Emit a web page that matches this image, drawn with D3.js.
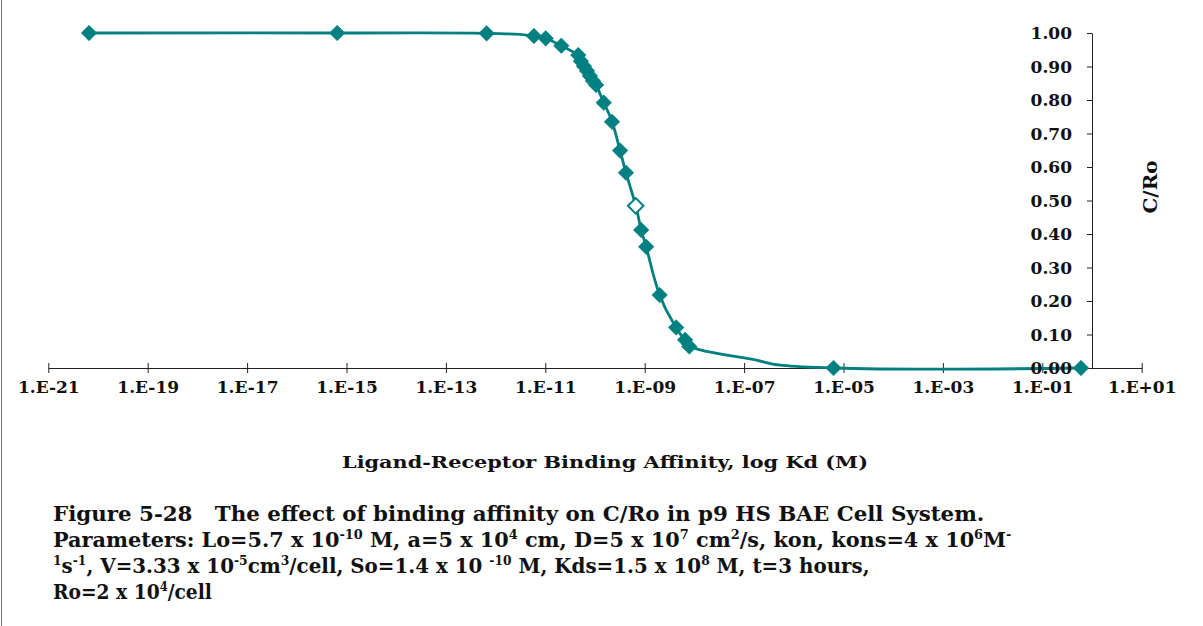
<!DOCTYPE html>
<html>
<head>
<meta charset="utf-8">
<script src="https://cdn.jsdelivr.net/npm/d3@7"></script>
<style>
  html, body { margin: 0; padding: 0; background: #fff; }
  svg { display: block; }
  text { font-family: "DejaVu Serif", "Liberation Serif", serif; font-weight: bold; fill: #111; }
</style>
</head>
<body>
<svg id="chart" width="1203" height="626"></svg>
<script>
// Dissociation constants Kd (M) and the resulting fraction of occupied receptors C/Ro
const kdValues = [6.6e-21, 6.5e-16, 6.6e-13, 5.9e-12, 1.02e-11, 2.1e-11,
  4.6e-11, 5.2e-11, 6.0e-11, 6.9e-11, 7.9e-11, 9.1e-11, 1.05e-10,
  1.5e-10, 2.2e-10, 3.2e-10, 4.2e-10, 6.6e-10, 8.5e-10, 1.07e-9,
  2.0e-9, 4.3e-9, 6.5e-9, 7.9e-9, 1.0e-7, 6.3e-6, 0.6];
const cRoValues = [1.000, 1.000, 0.999, 0.991, 0.984, 0.962,
  0.934, 0.916, 0.901, 0.887, 0.872, 0.857, 0.845,
  0.792, 0.735, 0.649, 0.583, 0.484, 0.412, 0.362,
  0.218, 0.121, 0.084, 0.064, 0.030, 0.000, 0.000];
// point drawn with a hollow marker, and point with no marker
const hollowPoint = 17;
const unmarkedPoint = 24;

const xTickValues = [1e-21, 1e-19, 1e-17, 1e-15, 1e-13, 1e-11, 1e-9, 1e-7, 1e-5, 1e-3, 1e-1, 1e1];
const yTickValues = [0, 0.1, 0.2, 0.3, 0.4, 0.5, 0.6, 0.7, 0.8, 0.9, 1.0];

const xTitle = "Ligand-Receptor Binding Affinity, log Kd (M)";
const yTitle = "C/Ro";
// caption runs: [text, superscript?]
const captionLines = [
  [["Figure 5-28\u00a0\u00a0 The effect of binding affinity on C/Ro in p9 HS BAE Cell System.", 0]],
  [["Parameters: Lo=5.7 x 10", 0], ["-10", 1], [" M, a=5 x 10", 0], ["4", 1], [" cm, D=5 x 10", 0], ["7", 1],
   [" cm", 0], ["2", 1], ["/s, kon, kons=4 x 10", 0], ["6", 1], ["M", 0], ["-", 1]],
  [["1", 1], ["s", 0], ["-1", 1], [", V=3.33 x 10", 0], ["-5", 1], ["cm", 0], ["3", 1],
   ["/cell, So=1.4 x 10 ", 0], ["-10", 1], [" M, Kds=1.5 x 10", 0], ["8", 1], [" M, t=3 hours,", 0]],
  [["Ro=2 x 10", 0], ["4", 1], ["/cell", 0]]
];
const captionWidths = [932, 959, 817, 159];

const teal = "#008080";
const svg = d3.select("#chart");

svg.append("rect").attr("width", 1203).attr("height", 626).attr("fill", "#fff");
// frame edge on the left
svg.append("line").attr("x1", 1.5).attr("x2", 1.5).attr("y1", 0).attr("y2", 626)
  .attr("stroke", "#777").attr("stroke-width", 1);

const x = d3.scaleLog().domain([1e-21, 1e1]).range([48.3, 1141.7]);
const y = d3.scaleLinear().domain([0, 1]).range([368, 33]);

const expLabel = d => {
  const e = Math.round(Math.log10(d));
  return "1.E" + (e < 0 ? "-" : "+") + String(Math.abs(e)).padStart(2, "0");
};

// horizontal axis along C/Ro = 0
const gx = svg.append("g").attr("transform", `translate(0,${y(0)})`)
  .call(d3.axisBottom(x).tickValues(xTickValues).tickFormat(expLabel).tickSizeInner(5).tickSizeOuter(0));
gx.select(".domain").attr("stroke", "#222");
gx.selectAll(".tick line").attr("y1", -5).attr("y2", 5).attr("stroke", "#222");
gx.selectAll(".tick text").attr("y", 25).attr("dy", 0)
  .style("font-size", "17px").style("font-family", null).attr("fill", "#111");

// vertical axis crossing at Kd = 1
const gy = svg.append("g").attr("transform", `translate(${x(1)},0)`)
  .call(d3.axisLeft(y).tickValues(yTickValues).tickFormat(d3.format(".2f")).tickSizeInner(5).tickSizeOuter(0));
gy.select(".domain").attr("stroke", "#222");
gy.selectAll(".tick line").attr("stroke", "#222");
gy.selectAll(".tick text").remove();

const pts = kdValues.map((k, i) => ({ k, v: cRoValues[i], i }));

svg.append("path").datum(pts)
  .attr("fill", "none").attr("stroke", teal).attr("stroke-width", 2.8)
  .attr("stroke-linejoin", "round")
  .attr("d", d3.line().x(d => x(d.k)).y(d => y(d.v)).curve(d3.curveCardinal.tension(-0.4)));

// vertical axis labels sit over the series line
svg.append("g").selectAll("text").data(yTickValues).join("text")
  .attr("x", x(1) - 20).attr("y", d => y(d)).attr("dy", "0.36em")
  .attr("text-anchor", "end").style("font-size", "17px")
  .text(d3.format(".2f"));

const diamond = d3.symbol(d3.symbolSquare, 122);
svg.append("g").selectAll("path").data(pts.filter(d => d.i !== unmarkedPoint)).join("path")
  .attr("d", diamond)
  .attr("transform", d => `translate(${x(d.k)},${y(d.v)}) rotate(45)`)
  .attr("fill", d => d.i === hollowPoint ? "#fff" : teal)
  .attr("stroke", teal).attr("stroke-width", d => d.i === hollowPoint ? 2 : 0.5);

// axis titles
const fitText = (sel, w) => sel.attr("textLength", w).attr("lengthAdjust", "spacingAndGlyphs");
fitText(svg.append("text").attr("x", 605).attr("y", 468).attr("text-anchor", "middle")
  .style("font-size", "16.5px").text(xTitle), 526);
fitText(svg.append("text").attr("transform", `translate(1157,187) rotate(-90)`)
  .attr("text-anchor", "middle").style("font-size", "18px").text(yTitle), 53);

// caption, each line squeezed to its set width
const supRaise = 8;
captionLines.forEach((runs, li) => {
  const g = svg.append("g");
  const t = g.append("text").attr("x", 0).attr("y", 0).style("font-size", "21px");
  let raised = false;
  runs.forEach(([s, sup]) => {
    const sp = t.append("tspan").text(s);
    if (sup && !raised) { sp.attr("dy", -supRaise); raised = true; }
    else if (!sup && raised) { sp.attr("dy", supRaise); raised = false; }
    if (sup) sp.style("font-size", "13px");
  });
  const bb = t.node().getBBox();
  const sx = captionWidths[li] / bb.width;
  g.attr("transform", `translate(${53 - bb.x * sx},${521 + li * 26}) scale(${sx},1)`);
});
</script>
</body>
</html>
